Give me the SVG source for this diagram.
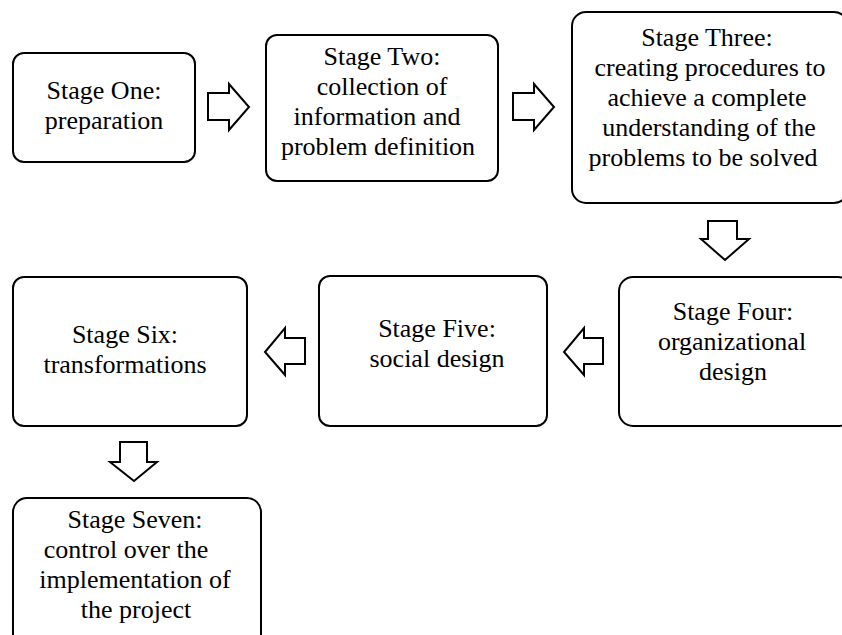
<svg xmlns="http://www.w3.org/2000/svg" width="842" height="635" viewBox="0 0 842 635">
<style>
.box{fill:#fff;stroke:#000;stroke-width:2}
.arr{fill:#fff;stroke:#000;stroke-width:2;stroke-linejoin:miter}
text{font-family:"Liberation Serif","Times New Roman",serif;font-size:26px;fill:#000;text-anchor:middle}
</style>
<rect width="842" height="635" fill="#fff"/>
<g id="connectors">
<path class="arr" d="M208,93 H229 V84 L249,107 L229,130 V120 H208 Z"/>
<path class="arr" d="M513,93 H534 V84 L554,107 L534,130 V120 H513 Z"/>
<path class="arr" d="M708,221 H737 V239 H749 L725,260 L701,239 H708 Z"/>
<path class="arr" d="M603,338 H584 V328 L564,352 L584,375 V364 H603 Z"/>
<path class="arr" d="M305,338 H285 V328 L265,352 L285,375 V364 H305 Z"/>
<path class="arr" d="M120,442 H147 V462 H157 L134,481 L110,462 H120 Z"/>
</g>
<g id="stage1">
<rect class="box" x="13" y="53" width="182" height="109" rx="11"/>
<text x="104" y="99">Stage One:</text>
<text x="104" y="129">preparation</text>
</g>
<g id="stage2">
<rect class="box" x="266" y="35" width="232" height="146" rx="11"/>
<text x="382" y="65">Stage Two:</text>
<text x="382" y="95">collection of</text>
<text x="377" y="125">information and</text>
<text x="378" y="155">problem definition</text>
</g>
<g id="stage3">
<rect class="box" x="572" y="12" width="276" height="191" rx="14"/>
<text x="707" y="46">Stage Three:</text>
<text x="710" y="76">creating procedures to</text>
<text x="707" y="106">achieve a complete</text>
<text x="709" y="136">understanding of the</text>
<text x="703" y="166">problems to be solved</text>
</g>
<g id="stage4">
<rect class="box" x="619" y="277" width="233" height="149" rx="14"/>
<text x="733" y="320">Stage Four:</text>
<text x="732" y="350">organizational</text>
<text x="733" y="380">design</text>
</g>
<g id="stage5">
<rect class="box" x="319" y="276" width="228" height="150" rx="11"/>
<text x="437" y="337">Stage Five:</text>
<text x="437" y="367">social design</text>
</g>
<g id="stage6">
<rect class="box" x="13" y="277" width="234" height="149" rx="11"/>
<text x="125" y="343">Stage Six:</text>
<text x="125" y="373">transformations</text>
</g>
<g id="stage7">
<rect class="box" x="13" y="498" width="248" height="150" rx="14"/>
<text x="135" y="528">Stage Seven:</text>
<text x="126" y="558">control over the</text>
<text x="135" y="588">implementation of</text>
<text x="136" y="618">the project</text>
</g>
</svg>
